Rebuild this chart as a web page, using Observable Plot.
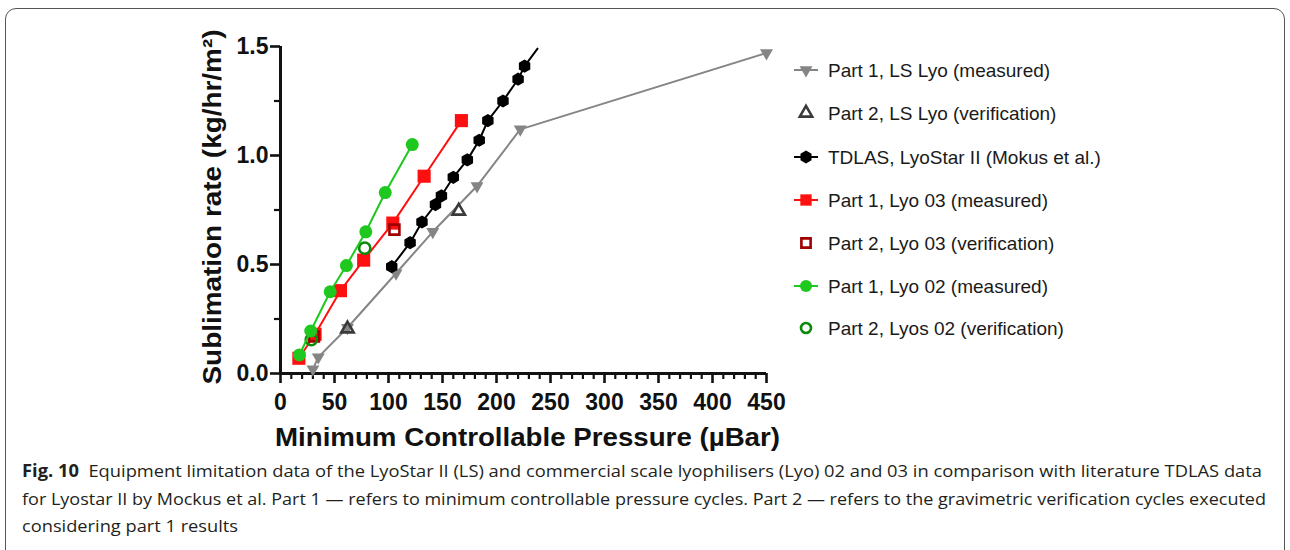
<!DOCTYPE html>
<html>
<head>
<meta charset="utf-8">
<script src="https://cdn.jsdelivr.net/npm/d3@7"></script>
<script src="https://cdn.jsdelivr.net/npm/@observablehq/plot@0.6"></script>
<style>
  body { margin: 0; background: #fff; width: 1290px; height: 550px; overflow: hidden; position: relative; font-family: "Liberation Sans", Arial, sans-serif; }
  #frame { position: absolute; left: 5px; top: 8px; width: 1280px; height: 560px; border: 1.5px solid #555; border-radius: 11px; box-sizing: border-box; }
  #chart { position: absolute; left: 0; top: 0; }
  #legend { position: absolute; left: 0; top: 0; }
  #caption { position: absolute; left: 0; top: 450px; }
</style>
</head>
<body>
<div id="frame"></div>
<div id="chart"></div>
<svg id="legend" width="1290" height="450"></svg>
<svg id="caption" width="1290" height="100"></svg>
<script>
// ---- data ----
const lsMeasP = [30, 35, 62, 107, 141, 182, 222, 450];
const lsMeasR = [0.02, 0.075, 0.21, 0.46, 0.65, 0.86, 1.12, 1.47];
const lsVerP = [62, 165];
const lsVerR = [0.205, 0.745];
const tdlasP = [103, 120, 131, 143.5, 149, 160, 173, 184, 192, 206, 220, 226];
const tdlasR = [0.49, 0.60, 0.695, 0.775, 0.815, 0.90, 0.98, 1.07, 1.16, 1.25, 1.35, 1.41];
const tdlasLineEndP = [238];
const tdlasLineEndR = [1.49];
const lyo03MeasP = [17, 32, 55.5, 77, 104, 133, 167.5];
const lyo03MeasR = [0.07, 0.18, 0.38, 0.52, 0.69, 0.905, 1.16];
const lyo03VerP = [31, 105.5];
const lyo03VerR = [0.17, 0.66];
const lyo02MeasP = [17.5, 28, 46, 61, 79, 97, 122];
const lyo02MeasR = [0.085, 0.195, 0.375, 0.495, 0.65, 0.83, 1.05];
const lyo02VerP = [28.5, 78];
const lyo02VerR = [0.155, 0.575];

const xMajorTicks = [0, 50, 100, 150, 200, 250, 300, 350, 400, 450];
const xMinorTicks = d3.range(0, 451, 10).filter(v => v % 50 !== 0);
const yMajorTicks = [0, 0.5, 1.0, 1.5];
const yMinorTicks = [0.25, 0.75, 1.25];

const seriesNames = [
  "Part 1, LS Lyo (measured)",
  "Part 2, LS Lyo (verification)",
  "TDLAS, LyoStar II (Mokus et al.)",
  "Part 1, Lyo 03 (measured)",
  "Part 2, Lyo 03 (verification)",
  "Part 1, Lyo 02 (measured)",
  "Part 2, Lyos 02 (verification)"
];
const xTitle = "Minimum Controllable Pressure (µBar)";
const yTitle = "Sublimation rate (kg/hr/m²)";

// ---- helpers ----
const zip = (xs, ys) => xs.map((x, i) => ({x, y: ys[i]}));
const hexagon = {draw(ctx, size) {
  const r = Math.sqrt(2 * size / (3 * Math.sqrt(3)));
  for (let k = 0; k < 6; k++) {
    const a = -Math.PI / 2 + k * Math.PI / 3;
    const px = r * Math.cos(a), py = r * Math.sin(a);
    if (k === 0) ctx.moveTo(px, py); else ctx.lineTo(px, py);
  }
  ctx.closePath();
}};
const triDown = {draw(ctx, size) {
  const s = Math.sqrt(4 * size / Math.sqrt(3));
  const h = s * Math.sqrt(3) / 2;
  ctx.moveTo(0, 2 * h / 3);
  ctx.lineTo(s / 2, -h / 3);
  ctx.lineTo(-s / 2, -h / 3);
  ctx.closePath();
}};
const triUp = {draw(ctx, size) {
  const s = Math.sqrt(4 * size / Math.sqrt(3));
  const h = s * Math.sqrt(3) / 2;
  ctx.moveTo(0, -2 * h / 3);
  ctx.lineTo(s / 2, h / 3);
  ctx.lineTo(-s / 2, h / 3);
  ctx.closePath();
}};

const GRAY = "#858585", DGRAY = "#3a3a3a", RED = "#ff1010", DRED = "#a00000", GREEN = "#1ec81e", DGREEN = "#0a8a0a";

const lsMeas = zip(lsMeasP, lsMeasR);
const lsVer = zip(lsVerP, lsVerR);
const tdlas = zip(tdlasP, tdlasR);
const tdlasLine = tdlas.concat(zip(tdlasLineEndP, tdlasLineEndR));
const lyo03Meas = zip(lyo03MeasP, lyo03MeasR);
const lyo03Ver = zip(lyo03VerP, lyo03VerR);
const lyo02Meas = zip(lyo02MeasP, lyo02MeasR);
const lyo02Ver = zip(lyo02VerP, lyo02VerR);

const FONT = "Liberation Sans, Arial, sans-serif";

// layout
const W = 1290, H = 455, ML = 280, MR = 524, MT = 46, MB = 82;
const xDomain = [0, 450], yDomain = [0, 1.5];
const pxPerX = (W - ML - MR) / (xDomain[1] - xDomain[0]);
const pxPerY = (H - MT - MB) / (yDomain[1] - yDomain[0]);
const tickDown = (px) => -px / pxPerY;   // downward tick length in y units
const tickLeft = (px) => -px / pxPerX;   // leftward tick length in x units

const chart = Plot.plot({
  width: W,
  height: H,
  marginLeft: ML,
  marginRight: MR,
  marginTop: MT,
  marginBottom: MB,
  style: {fontFamily: FONT, background: "transparent", overflow: "visible"},
  x: {domain: xDomain, axis: null},
  y: {domain: yDomain, axis: null},
  marks: [
    // tick labels
    Plot.axisX(xMajorTicks, {tickSize: 0, tickPadding: 20, fontSize: 23, fontWeight: "bold", fill: "#111", label: null, tickFormat: d3.format("d")}),
    Plot.axisY(yMajorTicks, {tickSize: 0, tickPadding: 12, fontSize: 23, fontWeight: "bold", fill: "#111", label: null, tickFormat: d3.format(".1f")}),
    // tick marks
    Plot.ruleX(xMinorTicks, {x: d => d, y1: 0, y2: tickDown(6), stroke: "#111", strokeWidth: 2.2}),
    Plot.ruleX(xMajorTicks, {x: d => d, y1: 0, y2: tickDown(10), stroke: "#111", strokeWidth: 2.6}),
    Plot.ruleY(yMinorTicks, {y: d => d, x1: 0, x2: tickLeft(6), stroke: "#111", strokeWidth: 2.2}),
    Plot.ruleY(yMajorTicks, {y: d => d, x1: 0, x2: tickLeft(10), stroke: "#111", strokeWidth: 2.6}),
    // axis lines
    Plot.ruleY([0], {x1: 0, x2: 450, strokeWidth: 3, stroke: "#111"}),
    Plot.ruleX([0], {y1: 0, y2: 1.5, strokeWidth: 3, stroke: "#111"}),
    // axis titles
    Plot.text([xTitle], {frameAnchor: "bottom", dy: 64, dx: 4, fontSize: 25, fontWeight: "bold", fill: "#111", textAnchor: "middle", lineAnchor: "middle"}),
    Plot.text([yTitle], {frameAnchor: "left", dx: -68, dy: -3, rotate: -90, fontSize: 26, fontWeight: "bold", fill: "#111", textAnchor: "middle", lineAnchor: "middle"}),
    // series
    Plot.line(lsMeas, {x: "x", y: "y", stroke: GRAY, strokeWidth: 2}),
    Plot.dot(lsMeas, {x: "x", y: "y", symbol: triDown, r: 4.8, fill: GRAY, stroke: "none"}),
    Plot.dot(lsVer, {x: "x", y: "y", symbol: triUp, r: 4.6, fill: "none", stroke: DGRAY, strokeWidth: 2.6}),
    Plot.line(tdlasLine, {x: "x", y: "y", stroke: "#000", strokeWidth: 2}),
    Plot.dot(tdlas, {x: "x", y: "y", symbol: hexagon, r: 6, fill: "#000", stroke: "none"}),
    Plot.line(lyo03Meas, {x: "x", y: "y", stroke: RED, strokeWidth: 2}),
    Plot.dot(lyo03Meas, {x: "x", y: "y", symbol: "square", r: 7.4, fill: RED, stroke: "none"}),
    Plot.dot(lyo03Ver, {x: "x", y: "y", symbol: "square", r: 5.6, fill: "none", stroke: DRED, strokeWidth: 2.6}),
    Plot.dot(lyo02Ver, {x: "x", y: "y", symbol: "circle", r: 5.6, fill: "none", stroke: DGREEN, strokeWidth: 2.6}),
    Plot.line(lyo02Meas, {x: "x", y: "y", stroke: GREEN, strokeWidth: 2}),
    Plot.dot(lyo02Meas, {x: "x", y: "y", symbol: "circle", r: 6.5, fill: GREEN, stroke: "none"})
  ]
});
document.getElementById("chart").appendChild(chart);
// stretch axis titles to the reference's wide lettering
d3.select(chart).selectAll("text").each(function() {
  const s = this.textContent;
  if (s === xTitle) d3.select(this).attr("textLength", 505).attr("lengthAdjust", "spacingAndGlyphs");
  if (s === yTitle) d3.select(this).attr("textLength", 355).attr("lengthAdjust", "spacingAndGlyphs");
});

// ---- legend ----
const legendStyles = [
  {sym: triDown, size: Math.PI * 4.8 * 4.8, fill: GRAY, stroke: "none", line: GRAY},
  {sym: triUp, size: Math.PI * 4.6 * 4.6, fill: "none", stroke: DGRAY, line: null},
  {sym: hexagon, size: Math.PI * 5.8 * 5.8, fill: "#000", stroke: "none", line: "#000"},
  {sym: d3.symbolSquare, size: Math.PI * 6.4 * 6.4, fill: RED, stroke: "none", line: RED},
  {sym: d3.symbolSquare, size: Math.PI * 5.2 * 5.2, fill: "none", stroke: DRED, line: null},
  {sym: d3.symbolCircle, size: Math.PI * 6 * 6, fill: GREEN, stroke: "none", line: GREEN},
  {sym: d3.symbolCircle, size: Math.PI * 5 * 5, fill: "none", stroke: DGREEN, line: null}
];
const legendY = [70, 113, 157, 200, 243, 286, 328];
const lg = d3.select("#legend");
seriesNames.forEach((name, i) => {
  const st = legendStyles[i];
  const g = lg.append("g").attr("transform", `translate(806,${legendY[i]})`);
  if (st.line) g.append("line").attr("x1", -12).attr("x2", 12).attr("stroke", st.line).attr("stroke-width", 2);
  g.append("path").attr("d", d3.symbol(st.sym, st.size)()).attr("fill", st.fill).attr("stroke", st.stroke).attr("stroke-width", 2.6);
  lg.append("text").attr("x", 828).attr("y", legendY[i]).attr("dy", "0.35em")
    .attr("font-family", FONT).attr("font-size", 19).attr("fill", "#1a1a1a").text(name);
});

// ---- caption ----
const capLines = [
  {bold: "Fig. 10", text: "  Equipment limitation data of the LyoStar II (LS) and commercial scale lyophilisers (Lyo) 02 and 03 in comparison with literature TDLAS data", len: 1240},
  {bold: null, text: "for Lyostar II by Mockus et al. Part 1 — refers to minimum controllable pressure cycles. Part 2 — refers to the gravimetric verification cycles executed", len: 1244},
  {bold: null, text: "considering part 1 results", len: 216}
];
const capY = [27, 55, 82];
const cap = d3.select("#caption");
capLines.forEach((l, i) => {
  const t = cap.append("text").attr("x", 22).attr("y", capY[i])
    .attr("font-family", "Open Sans, sans-serif").attr("font-size", 17).attr("fill", "#231f20")
    .attr("textLength", l.len).attr("lengthAdjust", "spacingAndGlyphs")
    .style("white-space", "pre");
  if (l.bold) t.append("tspan").attr("font-weight", "bold").text(l.bold);
  t.append("tspan").text(l.text);
});
</script>
</body>
</html>
